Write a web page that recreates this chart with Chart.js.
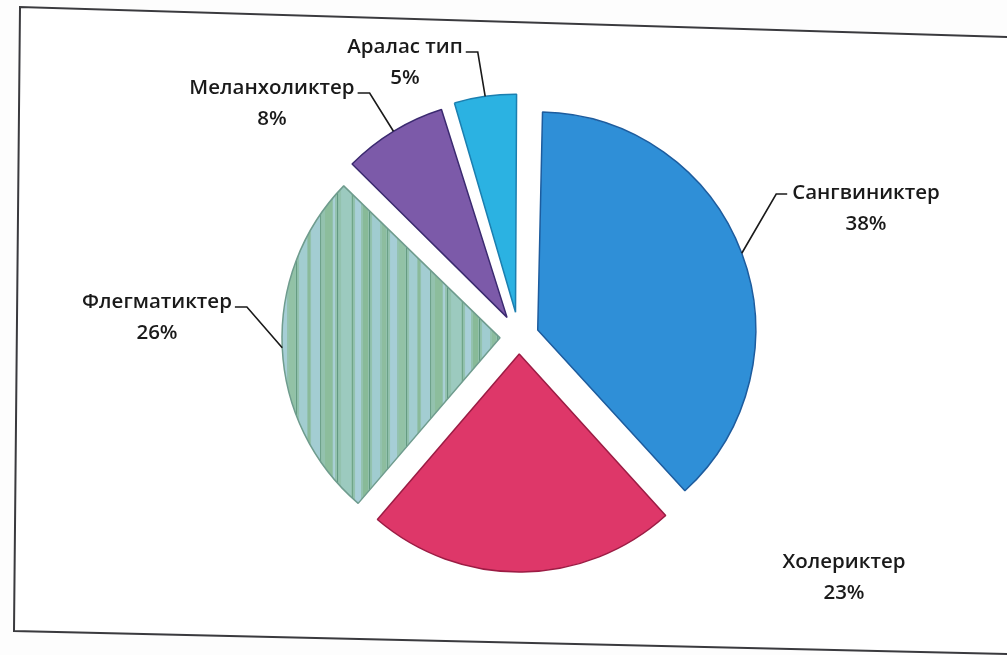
<!DOCTYPE html>
<html>
<head>
<meta charset="utf-8">
<script src="https://cdn.jsdelivr.net/npm/chart.js@4"></script>
<style>
html,body{margin:0;padding:0;background:#fdfdfd;}
#wrap{position:relative;width:1007px;height:655px;}
</style>
</head>
<body>
<div id="wrap"><canvas id="c" width="1007" height="655"></canvas></div>
<script>
// ---- data ----
const categories = ["Сангвиниктер", "Холериктер", "Флегматиктер", "Меланхоликтер", "Аралас тип"];
const values = [38, 23, 26, 8, 5];

// ---- styles / layout ----
const fillColors = ["#2f8fd7", "#de3769", null, "#7c5aa9", "#2bb2e2"];
const borderColors = ["#1d5c9e", "#9c1c44", "#6f9c8e", "#3b2a70", "#1b7fb0"];
// Chart.js draws arcs displaced by offset/4
const offsets = [80, 68, 76, 92, 100];
const RADIUS = 218;
// label text centres [x, y of first line], elbow direction
const labelLayout = [
  {x: 866, y: 193, side: "left"},
  {x: 844, y: 562, side: "none"},
  {x: 157, y: 302, side: "right"},
  {x: 272, y: 88, side: "right"},
  {x: 405, y: 47, side: "right"}
];

function stripePattern() {
  const p = document.createElement("canvas");
  p.width = 110; p.height = 8;
  const g = p.getContext("2d");
  g.fillStyle = "#93c2ae"; g.fillRect(0, 0, 110, 8);
  const stripes = [
    [0,9,"#a3cdd2"],[9,1,"#6a9f86"],[14,7,"#8cbd9c"],[22,2,"#a9d0d6"],[26,1,"#5f9780"],
    [30,10,"#9ccabf"],[41,1,"#6da488"],[44,6,"#a8cfd8"],[52,5,"#88ba98"],[58,1,"#5c957c"],
    [61,8,"#a0ccd0"],[71,4,"#8dbd9f"],[76,1,"#689f85"],[79,7,"#a6ced6"],[88,6,"#92c2a6"],
    [95,1,"#62997f"],[98,8,"#a2cdd0"],[107,2,"#8aba9a"]
  ];
  stripes.forEach(s => { g.fillStyle = s[2]; g.fillRect(s[0], 0, s[1], 8); });
  return g.createPattern(p, "repeat");
}
fillColors[2] = stripePattern();

const total = values.reduce((a, b) => a + b, 0);
const FONT = "600 20.5px 'Open Sans', sans-serif";

// Chart.js enlarges narrow offset arcs by offset*(1-sin(circumference)); keep all radii equal
const radiusFixPlugin = {
  id: "radiusFix",
  afterDatasetsUpdate(chart) {
    const meta = chart.getDatasetMeta(0);
    meta.data.forEach(arc => {
      const off = (arc.options.offset || 0) / 4;
      const fix = 1 - Math.sin(Math.min(Math.PI, arc.circumference || 0));
      arc.outerRadius = RADIUS - off * fix;
    });
  }
};

const framePlugin = {
  id: "frame",
  beforeDraw(chart) {
    const c = chart.ctx;
    c.save();
    c.fillStyle = "#ffffff";
    c.beginPath();
    c.moveTo(20, 7); c.lineTo(1010, 37); c.lineTo(1010, 654); c.lineTo(14, 631); c.closePath();
    c.fill();
    c.strokeStyle = "#3a3a3e";
    c.lineWidth = 2;
    c.beginPath();
    c.moveTo(1010, 37); c.lineTo(20, 7); c.lineTo(14, 631); c.lineTo(1010, 654);
    c.stroke();
    c.restore();
  }
};

const labelPlugin = {
  id: "pieLabels",
  afterDatasetsDraw(chart) {
    const c = chart.ctx;
    const meta = chart.getDatasetMeta(0);
    c.save();
    c.font = FONT;
    c.fillStyle = "#1a1a1a";
    c.textAlign = "center";
    c.textBaseline = "middle";
    meta.data.forEach((arc, i) => {
      const p = arc.getProps(["x", "y", "startAngle", "endAngle"], true);
      const off = (arc.options.offset || 0) / 4;
      const a = (p.startAngle + p.endAngle) / 2;
      const ex = p.x + Math.cos(a) * (off + RADIUS);
      const ey = p.y + Math.sin(a) * (off + RADIUS);
      const L = labelLayout[i];
      const name = categories[i];
      const pct = Math.round(values[i] / total * 100) + "%";
      c.fillText(name, L.x, L.y);
      c.fillText(pct, L.x, L.y + 31);
      const w = c.measureText(name).width;
      if (L.side !== "none") {
        c.strokeStyle = "#1a1a1a";
        c.lineWidth = 1.6;
        c.beginPath();
        if (L.side === "left") {
          const tx = L.x - w / 2 - 5;
          c.moveTo(tx, L.y + 1); c.lineTo(tx - 11, L.y + 1); c.lineTo(ex, ey);
        } else {
          const tx = L.x + w / 2 + 3;
          c.moveTo(tx, L.y + 5); c.lineTo(tx + 12, L.y + 5); c.lineTo(ex, ey);
        }
        c.stroke();
      }
    });
    c.restore();
  }
};

new Chart(document.getElementById("c"), {
  type: "pie",
  data: {
    labels: categories,
    datasets: [{
      data: values,
      backgroundColor: fillColors,
      borderColor: borderColors,
      borderWidth: 1.5,
      offset: offsets,
      hoverOffset: 0
    }]
  },
  options: {
    responsive: false,
    animation: false,
    rotation: 1,
    radius: RADIUS,
    layout: {padding: {left: 31, right: 0, top: 19, bottom: 0}},
    plugins: {legend: {display: false}, tooltip: {enabled: false}}
  },
  plugins: [framePlugin, radiusFixPlugin, labelPlugin]
});
</script>
</body>
</html>
